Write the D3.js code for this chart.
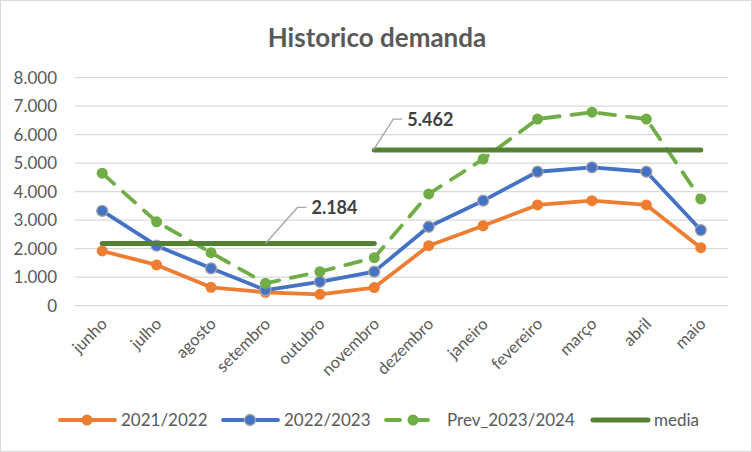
<!DOCTYPE html>
<html>
<head>
<meta charset="utf-8">
<script src="https://cdn.jsdelivr.net/npm/d3@7"></script>
<style>
  body { margin: 0; background: #fff; }
  text { font-family: Lato, "Open Sans", sans-serif; fill: #595959; }
</style>
</head>
<body>
<svg class="chart" width="752" height="452"></svg>
<script>
// data
var months = ['junho','julho','agosto','setembro','outubro','novembro','dezembro','janeiro','fevereiro','março','abril','maio'];
var s2122 = [1920, 1430, 645, 470, 400, 635, 2105, 2805, 3535, 3685, 3535, 2035];
var s2223 = [3325, 2105, 1310, 550, 840, 1195, 2770, 3685, 4700, 4855, 4700, 2655];
var prev2324 = [4650, 2945, 1860, 785, 1195, 1685, 3920, 5145, 6550, 6790, 6550, 3745];
var media1 = [2184, 2184, 2184, 2184, 2184, 2184, null, null, null, null, null, null];
var media2 = [null, null, null, null, null, 5462, 5462, 5462, 5462, 5462, 5462, 5462];
var yTicks = [0, 1000, 2000, 3000, 4000, 5000, 6000, 7000, 8000];

var fmt = function(v) { return v == 0 ? '0' : d3.format(',')(v).replace(',', '.'); };

var svg = d3.select('.chart');

// outer border
svg.append('rect')
  .attr('x', 0.5).attr('y', 0.5)
  .attr('width', 751).attr('height', 451)
  .attr('fill', '#fff')
  .attr('stroke', '#d9d9d9');

svg.append('text')
  .attr('x', 377).attr('y', 47)
  .attr('text-anchor', 'middle')
  .attr('font-size', 26)
  .attr('font-weight', 'bold')
  .text('Historico demanda');

var x = d3.scaleBand().domain(months).range([75, 728]);
var y = d3.scaleLinear().domain([0, 8000]).range([305.7, 77.7]);
var cx = function(i) { return x(months[i]) + x.bandwidth() / 2; };

// gridlines + y labels
var grid = svg.append('g');
grid.selectAll('line')
  .data(yTicks)
  .enter().append('line')
  .attr('x1', 75).attr('x2', 728)
  .attr('y1', function(d) { return y(d); })
  .attr('y2', function(d) { return y(d); })
  .attr('stroke', '#d9d9d9')
  .attr('stroke-width', 1.3);

grid.selectAll('text')
  .data(yTicks)
  .enter().append('text')
  .attr('x', 57)
  .attr('y', function(d) { return y(d) + 6; })
  .attr('text-anchor', 'end')
  .attr('font-size', 17)
  .text(fmt);

// month labels
svg.append('g').selectAll('text')
  .data(months)
  .enter().append('text')
  .attr('text-anchor', 'end')
  .attr('font-size', 16.5)
  .attr('transform', function(d, i) {
    return 'translate(' + [cx(i) + 6, 325] + ') rotate(-45)';
  })
  .text(function(d) { return d; });

var line = d3.line()
  .defined(function(d) { return d != null; })
  .x(function(d, i) { return cx(i); })
  .y(function(d) { return y(d); });

function drawSeries(vals, color, dash, markerStroke) {
  var g = svg.append('g');
  g.append('path')
    .datum(vals)
    .attr('d', line)
    .attr('fill', 'none')
    .attr('stroke', color)
    .attr('stroke-width', 3.8)
    .attr('stroke-linejoin', 'round')
    .attr('stroke-linecap', 'round')
    .attr('stroke-dasharray', dash);
  g.selectAll('circle')
    .data(vals)
    .enter().append('circle')
    .attr('cx', function(d, i) { return cx(i); })
    .attr('cy', function(d) { return y(d); })
    .attr('r', 5.5)
    .attr('fill', color)
    .attr('stroke', markerStroke || color)
    .attr('stroke-width', markerStroke ? 1.3 : 0);
}

drawSeries(s2122, '#ed7d31', null);
drawSeries(s2223, '#4472c4', null, '#a5a5a5');
drawSeries(prev2324, '#70ad47', '16,12');

// media lines
[media1, media2].forEach(function(m) {
  svg.append('path')
    .datum(m)
    .attr('d', line)
    .attr('fill', 'none')
    .attr('stroke', '#548235')
    .attr('stroke-width', 5)
    .attr('stroke-linecap', 'round');
});

// data labels with leader lines
function label(val, idx, dx, w, h) {
  var px = cx(idx) + dx, py = y(val);
  svg.append('polyline')
    .attr('points', [[px, py], [px + w, py - h], [px + w + 9, py - h]].join(' '))
    .attr('fill', 'none')
    .attr('stroke', '#a6a6a6')
    .attr('stroke-width', 1.3);
  svg.append('text')
    .attr('x', px + w + 14).attr('y', py - h + 7)
    .attr('font-size', 18)
    .attr('font-weight', 'bold')
    .style('fill', '#404040')
    .text(fmt(val));
}
label(media1[3], 3, 0, 32, 36);
label(media2[5], 5, -1, 20, 31);

// legend
var legendItems = [
  {name: '2021/2022', color: '#ed7d31', x: 60, dash: null, marker: true},
  {name: '2022/2023', color: '#4472c4', x: 223, dash: null, marker: true, ms: '#a5a5a5'},
  {name: 'Prev_2023/2024', color: '#70ad47', x: 386, dash: '14,14', marker: true},
  {name: 'media', color: '#548235', x: 593, dash: null, marker: false}
];
var leg = svg.append('g').selectAll('g')
  .data(legendItems)
  .enter().append('g')
  .attr('transform', function(d) { return 'translate(' + [d.x, 420] + ')'; });

leg.append('line')
  .attr('x1', 0).attr('x2', 55)
  .attr('y1', 0).attr('y2', 0)
  .attr('stroke', function(d) { return d.color; })
  .attr('stroke-width', function(d) { return d.marker ? 3.8 : 5; })
  .attr('stroke-linecap', 'round')
  .attr('stroke-dasharray', function(d) { return d.dash; });

leg.filter(function(d) { return d.marker; })
  .append('circle')
  .attr('cx', 27).attr('cy', 0).attr('r', 5.5)
  .attr('fill', function(d) { return d.color; })
  .attr('stroke', function(d) { return d.ms || d.color; })
  .attr('stroke-width', function(d) { return d.ms ? 1.3 : 0; });

leg.append('text')
  .attr('x', 61).attr('y', 6)
  .attr('font-size', 17)
  .text(function(d) { return d.name; });
</script>
</body>
</html>
